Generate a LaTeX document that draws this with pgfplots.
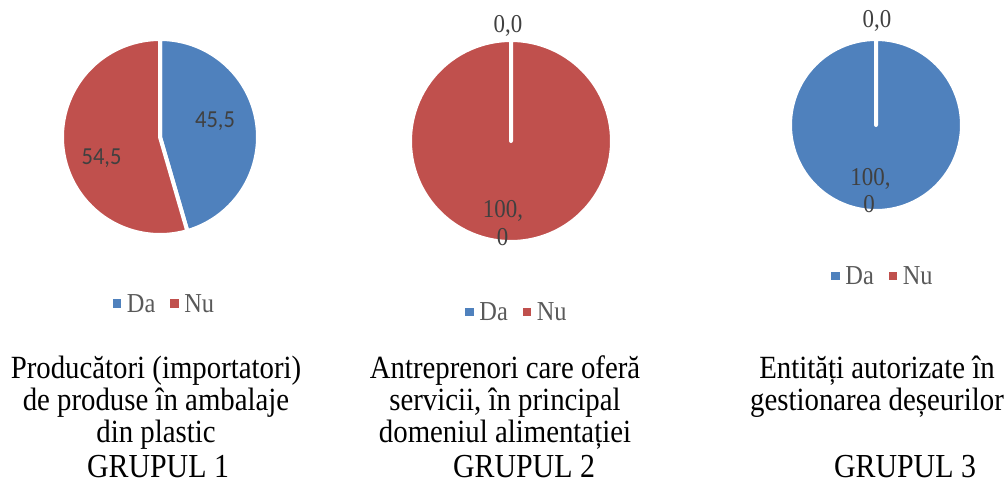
\documentclass[border=0pt]{standalone}
\usepackage{pgfplots}
\pgfplotsset{compat=1.18}
\usepackage{pgfplotstable}
\usepackage{fontspec}
\setmainfont{Liberation Serif}[FakeStretch=0.89]
\newfontfamily\calibri{Carlito}[FakeStretch=0.92]
\definecolor{pieblue}{HTML}{4F81BD}
\definecolor{piered}{HTML}{C0504D}
\definecolor{lbl}{HTML}{404040}
\definecolor{leg}{HTML}{595959}

% share (%) answering Da / Nu in each group
\pgfplotstableread{
grup da nu
1 45.5 54.5
2 0.0 100.0
3 100.0 0.0
}\piedata

\pgfplotstablegetelem{0}{da}\of\piedata \pgfmathsetmacro\aEnd{90-3.6*\pgfplotsretval}
\pgfplotstablegetelem{1}{da}\of\piedata \pgfmathsetmacro\bEnd{90-3.6*\pgfplotsretval}
\pgfplotstablegetelem{2}{da}\of\piedata \pgfmathsetmacro\cEnd{90-3.6*\pgfplotsretval}

\pgfplotsset{
  pie/.style={hide axis, clip=false, xmin=-1, xmax=1, ymin=-1, ymax=1, anchor=center,
    legend columns=2,
    legend image code/.code={\fill[##1, draw=none] (0bp,-4bp) rectangle (8.5bp,4.5bp);
      \path[draw=none, fill=none] (0bp,-4bp) rectangle (12bp,4bp);},
    legend style={draw=none, fill=none, anchor=center,
      font=\fontsize{27.5}{30}\selectfont\color{leg},
      /tikz/every even column/.append style={column sep=13bp}},
  },
  slice/.style={draw=white, line width=4bp, line join=round, samples=120, variable=\t, forget plot},
}
\newcommand\pieslice[3]{%
  \addplot[slice, fill=#1, domain=#2:#3] ({cos(\t)},{sin(\t)}) -- (axis cs:0,0) -- cycle;}

\begin{document}
\begin{tikzpicture}
\path[use as bounding box] (0,0) rectangle (1008bp,-484bp);

% GRUPUL 1
\begin{axis}[pie, x=98bp, y=98bp, at={(160bp,-137bp)},
  legend style={at={(0.523,-0.352)}}]
  \pieslice{pieblue}{90}{\aEnd}
  \pieslice{piered}{\aEnd}{-270}
  \addlegendimage{pieblue}\addlegendentry{Da}
  \addlegendimage{piered}\addlegendentry{Nu}
\end{axis}

% GRUPUL 2
\begin{axis}[pie, x=101bp, y=101bp, at={(511bp,-141bp)},
  legend style={at={(0.530,-0.347)}}]
  \pieslice{piered}{\bEnd}{-270}
  \addlegendimage{pieblue}\addlegendentry{Da}
  \addlegendimage{piered}\addlegendentry{Nu}
\end{axis}

% GRUPUL 3
\begin{axis}[pie, x=86bp, y=86bp, at={(876bp,-125bp)},
  legend style={at={(0.541,-0.378)}}]
  \pieslice{pieblue}{90}{\cEnd}
  \addlegendimage{pieblue}\addlegendentry{Da}
  \addlegendimage{piered}\addlegendentry{Nu}
\end{axis}

% data labels
\node[font=\calibri\fontsize{24.5}{28}\selectfont, text=lbl] at (215bp,-121bp) {45,5};
\node[font=\calibri\fontsize{24.5}{28}\selectfont, text=lbl] at (101.5bp,-158bp) {54,5};

\tikzset{dl/.style={anchor=base, font=\fontsize{25.8}{29}\selectfont, text=lbl, inner sep=0pt}}
\node[dl] at (508bp,-32bp) {0,0};
\node[dl] at (503bp,-217bp) {100,};
\node[dl] at (502.5bp,-245bp) {0};
\node[dl] at (877bp,-27bp) {0,0};
\node[dl] at (870.5bp,-185bp) {100,};
\node[dl] at (869bp,-212bp) {0};

% titles
\tikzset{tl/.style={anchor=base, font=\fontsize{32.5}{36}\selectfont, inner sep=0pt},
         gl/.style={anchor=base, font=\fontsize{33.7}{38}\selectfont, inner sep=0pt}}
\node[tl] at (156bp,-378bp) {Producători (importatori)};
\node[tl] at (156bp,-410bp) {de produse în ambalaje};
\node[tl] at (156bp,-442bp) {din plastic};
\node[gl] at (158bp,-477bp) {GRUPUL 1};

\node[tl] at (505bp,-378bp) {Antreprenori care oferă};
\node[tl] at (505bp,-410bp) {servicii, în principal};
\node[tl] at (505bp,-442bp) {domeniul alimentației};
\node[gl] at (524bp,-477bp) {GRUPUL 2};

\node[tl] at (877bp,-378bp) {Entități autorizate în};
\node[tl] at (877bp,-410bp) {gestionarea deșeurilor};
\node[gl] at (905bp,-477bp) {GRUPUL 3};
\end{tikzpicture}
\end{document}
